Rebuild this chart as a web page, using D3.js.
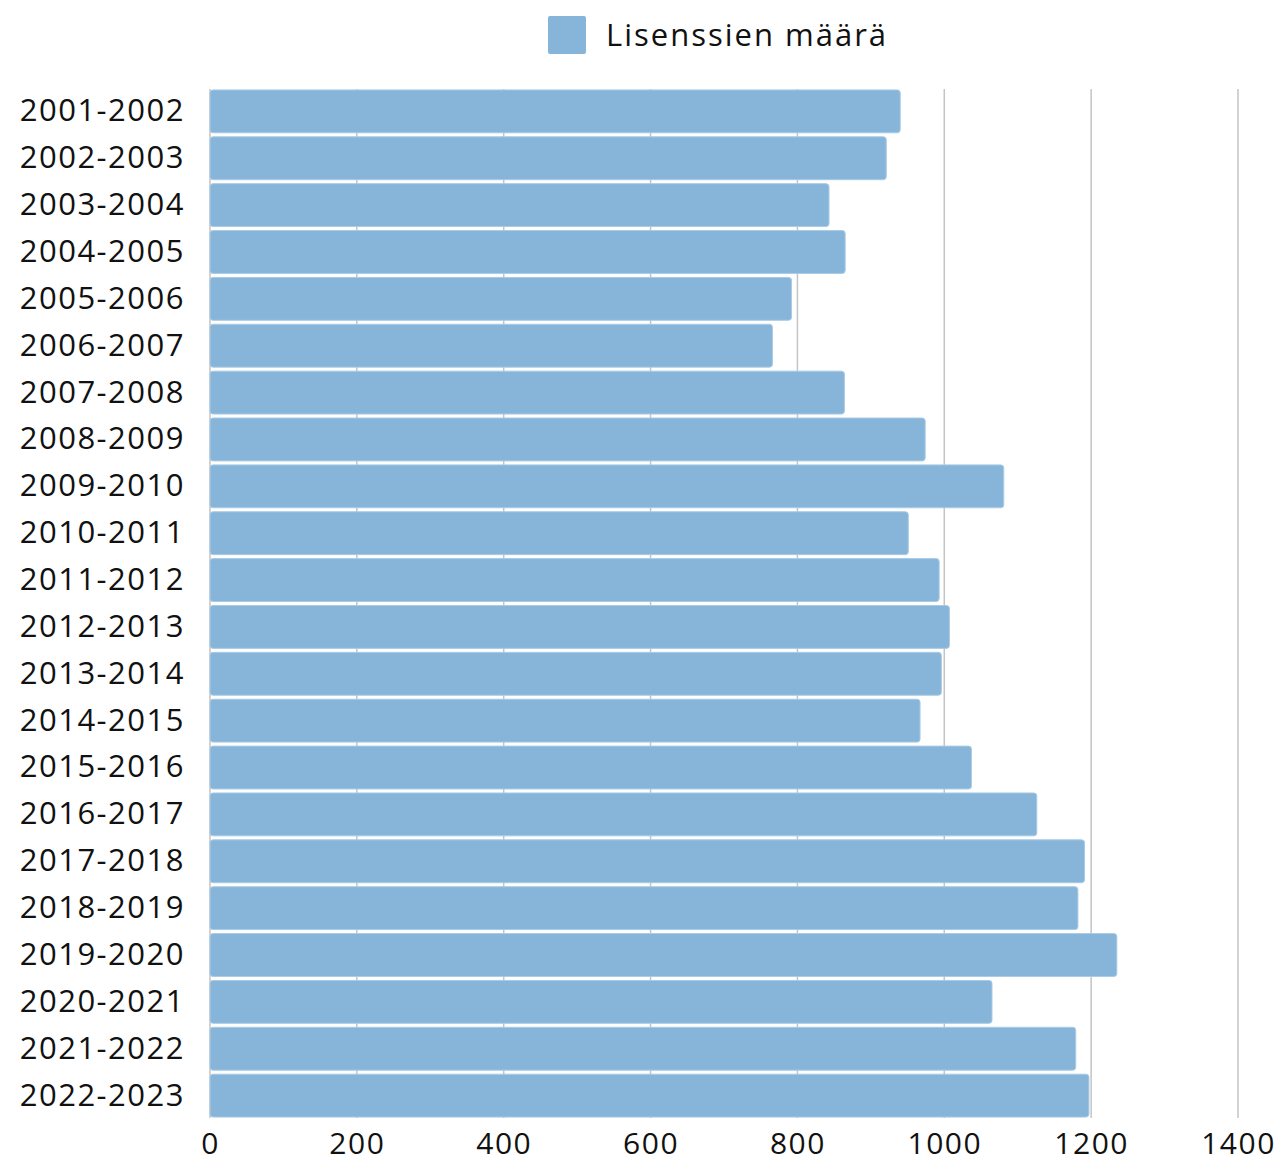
<!DOCTYPE html>
<html>
<head>
<meta charset="utf-8">
<script src="https://cdn.jsdelivr.net/npm/d3@7"></script>
<style>
  body { margin: 0; background: #fff; }
  text { font-family: "Open Sans", sans-serif; fill: #111; }
</style>
</head>
<body>
<div id="chart"></div>
<script>
const svgWidth = 1279
const svgHeight = 1164

const seasons = [
  "2001-2002", "2002-2003", "2003-2004", "2004-2005", "2005-2006", "2006-2007",
  "2007-2008", "2008-2009", "2009-2010", "2010-2011", "2011-2012", "2012-2013",
  "2013-2014", "2014-2015", "2015-2016", "2016-2017", "2017-2018", "2018-2019",
  "2019-2020", "2020-2021", "2021-2022", "2022-2023"
]
const licences = [
  940, 921, 843, 865, 792, 766, 864, 974, 1081, 951, 993, 1007,
  996, 967, 1037, 1126, 1191, 1182, 1235, 1065, 1179, 1197
]
const xTicks = [0, 200, 400, 600, 800, 1000, 1200, 1400]
const seriesName = "Lisenssien määrä"

let margin = { top: 89, right: 41, bottom: 46, left: 210 }
let width = svgWidth - margin.left - margin.right
let height = svgHeight - margin.top - margin.bottom

const barColor = "#86b5d9"

let svg = d3.select("#chart")
  .append("svg")
  .attr("width", svgWidth)
  .attr("height", svgHeight)

let chartGroup = svg.append("g")
  .attr("transform", `translate(${margin.left}, ${margin.top})`)

let xLinearScale = d3.scaleLinear().domain([0, 1400]).range([0, width])
let yBandScale = d3.scaleBand().domain(seasons).range([0, height]).paddingInner(0.085).paddingOuter(0.02)

// grid lines behind the bars
chartGroup.append("g")
  .selectAll("line")
  .data(xTicks)
  .enter()
  .append("line")
  .attr("x1", d => xLinearScale(d))
  .attr("x2", d => xLinearScale(d))
  .attr("y1", 0)
  .attr("y2", height)
  .attr("stroke", "#c4c4c4")
  .attr("stroke-width", 1.5)

chartGroup.append("g")
  .selectAll("rect")
  .data(seasons)
  .enter()
  .append("rect")
  .attr("x", xLinearScale(0))
  .attr("y", d => yBandScale(d))
  .attr("width", (d, i) => xLinearScale(licences[i]) - xLinearScale(0))
  .attr("height", yBandScale.bandwidth())
  .attr("rx", 3)
  .attr("fill", barColor)
  .attr("stroke", "#a9cbe6")
  .attr("stroke-width", 1)

let leftAxis = d3.axisLeft(yBandScale).tickSize(0).tickPadding(25)
let yAxis = chartGroup.append("g").call(leftAxis)
yAxis.select(".domain").remove()
yAxis.selectAll("text")
  .style("font-size", "31px")
  .style("letter-spacing", "1.5px")
  .style("font-family", "'Open Sans', sans-serif")
  .attr("fill", "#111")

let bottomAxis = d3.axisBottom(xLinearScale).tickValues(xTicks).tickFormat(d3.format("d")).tickSize(0).tickPadding(15)
let xAxis = chartGroup.append("g")
  .attr("transform", `translate(0, ${height})`)
  .call(bottomAxis)
xAxis.select(".domain").remove()
xAxis.selectAll("text")
  .style("font-size", "30px")
  .style("letter-spacing", "1.5px")
  .style("font-family", "'Open Sans', sans-serif")
  .attr("fill", "#111")

// legend
let legend = svg.append("g").attr("transform", "translate(548, 16)")
legend.append("rect")
  .attr("width", 38)
  .attr("height", 38)
  .attr("rx", 2)
  .attr("fill", barColor)
legend.append("text")
  .attr("x", 58)
  .attr("y", 19)
  .attr("dy", "0.35em")
  .style("font-size", "31px")
  .style("letter-spacing", "2px")
  .text(seriesName)
</script>
</body>
</html>
